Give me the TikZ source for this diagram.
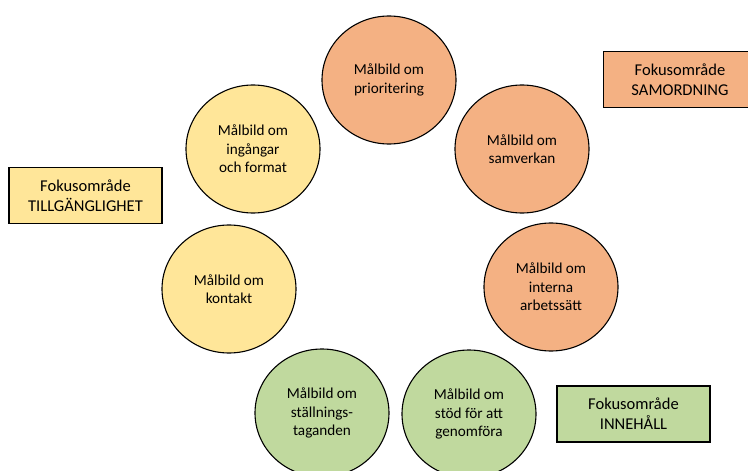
\documentclass[tikz,border=0pt]{standalone}
\usepackage{fontspec}
\setmainfont{Carlito}
\usetikzlibrary{shapes.geometric}
\definecolor{samord}{HTML}{F4B183}
\definecolor{tillg}{HTML}{FFE699}
\definecolor{innehall}{HTML}{C0D99E}
\tikzset{
  mal/.style={ellipse, draw=black, line width=1.1pt, minimum width=134pt, minimum height=128pt,
    inner sep=0pt, align=center, font=\fontsize{15.2}{18.5}\selectfont},
  fokus/.style={rectangle, draw=black, line width=1.1pt, minimum width=153pt, minimum height=56pt,
    align=center, font=\fontsize{16.5}{20}\selectfont}
}
\begin{document}
\begin{tikzpicture}[x=1pt,y=-1pt]
    \useasboundingbox (0,0) rectangle (748,471);
    \clip (0,0) rectangle (748,471);
    \node [mal, fill=samord] (prio) at (389,80) {Målbild om\\prioritering};
    \node [mal, fill=samord] (samv) at (522,149) {Målbild om\\samverkan};
    \node [mal, fill=samord] (arb) at (551,287) {Målbild om\\interna\\arbetssätt};
    \node [mal, fill=innehall] (stod) at (469,414) {Målbild om\\stöd för att\\genomföra};
    \node [mal, fill=innehall] (stall) at (322,413) {Målbild om\\ställnings-\\taganden};
    \node [mal, fill=tillg] (kont) at (229,289) {Målbild om\\kontakt};
    \node [mal, fill=tillg] (ing) at (253,149) {Målbild om\\ingångar\\och format};

    \node [fokus, fill=samord] (fsam) at (680,79.5) {Fokusområde\\SAMORDNING};
    \node [fokus, fill=tillg] (ftill) at (85.5,195.5) {Fokusområde\\TILLGÄNGLIGHET};
    \node [fokus, fill=innehall] (finn) at (633.5,414) {Fokusområde\\INNEHÅLL};
\end{tikzpicture}
\end{document}
